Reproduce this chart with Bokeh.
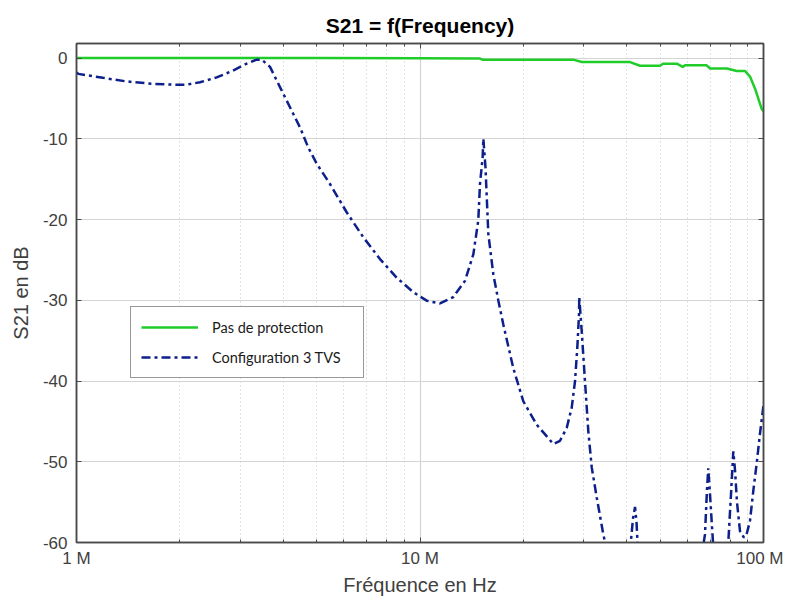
from bokeh.plotting import figure
from bokeh.models import (Range1d, FixedTicker, CustomJSTickFormatter, LogAxis,
                          LinearAxis, Legend, LegendItem)
from bokeh.embed import file_html
from bokeh.resources import INLINE

# ---- data (frequency in MHz, S21 in dB) ----
green_f_mhz = [1.0, 2.0, 3.0, 5.0, 10.0, 14.9, 15.2, 27.9, 29.6, 40.9, 43.7, 49.96,
               51.0, 55.9, 58.2, 59.1, 68.3, 69.9, 78.3, 83.6, 88.3, 91.35, 94.5,
               98.8, 100.0]
green_db = [0.0, 0.0, 0.0, 0.0, -0.02, -0.05, -0.2, -0.2, -0.5, -0.5, -0.95, -0.95,
            -0.7, -0.7, -1.1, -0.9, -0.9, -1.3, -1.3, -1.6, -1.6, -2.3, -3.8,
            -6.3, -6.6]

blue_f_mhz = [1.0, 1.012, 1.194, 1.40, 1.67, 1.91, 2.093, 2.288, 2.559, 2.855, 3.129,
              3.346, 3.461, 3.659, 3.912, 4.183, 4.474, 4.73, 5.005, 5.47, 6.117,
              6.839, 7.648, 8.554, 9.56, 10.46, 11.43, 12.50, 13.52, 14.30, 14.78,
              14.95, 15.22, 15.29, 15.51, 15.81, 16.35, 16.9, 17.48, 18.69, 19.98,
              21.86, 24.44, 25.56, 26.74, 27.65, 28.27, 28.71, 29.04, 29.08, 29.56,
              30.22, 30.9, 31.62, 32.69, 34.17, 35.03, 38.2, 40.87, 41.7, 42.27,
              42.69, 43.1, 46.7, 65.35, 67.55, 68.46, 69.06, 69.86, 70.8, 71.78,
              75.72, 78.98, 80.43, 81.68, 82.6, 83.72, 85.42, 87.74, 89.53, 91.35,
              93.39, 95.54, 97.68, 100.0]
blue_db = [-1.8, -1.96, -2.45, -2.9, -3.2, -3.3, -3.3, -3.0, -2.4, -1.55, -0.7,
           -0.2, -0.2, -1.1, -3.6, -6.1, -8.6, -11.1, -13.1, -15.6, -19.1,
           -22.2, -24.9, -27.2, -29.0, -30.05, -30.4, -29.6, -27.6, -24.3, -20.1,
           -15.6, -12.3, -10.0, -13.5, -21.8, -26.8, -30.0, -33.0, -38.4, -42.5,
           -45.4, -47.8, -47.4, -45.8, -43.3, -40.0, -35.8, -31.7, -29.6, -33.8,
           -40.0, -46.2, -50.7, -54.4, -59.0, -61.0, -64.0, -61.0, -57.0, -55.6,
           -57.5, -61.0, -65.0, -63.0, -59.0, -53.5, -50.8, -54.0, -58.0, -62.0,
           -64.0, -60.0, -54.0, -48.7, -51.0, -55.0, -58.6, -59.4, -58.8, -57.3,
           -53.6, -50.2, -46.5, -43.0]

x_major_mhz = [1, 10, 100]
x_minor_mhz = [2, 3, 4, 5, 6, 7, 8, 9, 20, 30, 40, 50, 60, 70, 80, 90]
y_ticks = [-60, -50, -40, -30, -20, -10, 0]

green_f = [f * 1e6 for f in green_f_mhz]
blue_f = [f * 1e6 for f in blue_f_mhz]
x_major = [f * 1e6 for f in x_major_mhz]
x_minor = [f * 1e6 for f in x_minor_mhz]

FONT = "Liberation Sans"
TXT = "#404040"
FRAME = "#4a4a4a"

p = figure(x_axis_type="log", x_range=Range1d(1e6, 1e8), y_range=Range1d(-60, 1.8),
           frame_width=687, frame_height=499,
           min_border_left=76, min_border_right=20, min_border_top=43, min_border_bottom=55,
           output_backend="svg", toolbar_location=None, title="S21 = f(Frequency)",
           background_fill_color="white", border_fill_color="white")

p.title.text_font = FONT
p.title.text_font_size = "21px"
p.title.text_font_style = "bold"
p.title.text_color = "black"
p.title.align = "center"
p.title.vertical_align = "top"
p.title.standoff = 10

xt = FixedTicker(ticks=x_major, minor_ticks=x_minor)
yt = FixedTicker(ticks=y_ticks, minor_ticks=[])
p.xaxis.ticker = xt
p.yaxis.ticker = yt
p.xaxis.formatter = CustomJSTickFormatter(code="return Math.round(tick/1e6) + ' M';")
p.yaxis.formatter = CustomJSTickFormatter(code="return String(Math.round(tick));")

for ax in [p.xaxis[0], p.yaxis[0]]:
    ax.major_label_text_font = FONT
    ax.major_label_text_font_size = "17px"
    ax.major_label_text_color = TXT
    ax.axis_label_text_font = FONT
    ax.axis_label_text_font_size = "20px"
    ax.axis_label_text_font_style = "normal"
    ax.axis_label_text_color = TXT
    ax.axis_line_color = FRAME
    ax.axis_line_width = 1.5
    ax.major_tick_in = 5
    ax.major_tick_out = 0
    ax.minor_tick_in = 3
    ax.minor_tick_out = 0
    ax.major_tick_line_color = FRAME
    ax.minor_tick_line_color = FRAME

p.xaxis.major_label_standoff = 6
p.yaxis.major_label_standoff = 9
p.xaxis.axis_label = "Fréquence en Hz"
p.yaxis.axis_label = "S21 en dB"
p.xaxis.axis_label_standoff = 3
p.yaxis.axis_label_standoff = 8

top = LogAxis(ticker=xt, formatter=CustomJSTickFormatter(code="return '';"),
              major_tick_in=5, major_tick_out=0,
              minor_tick_in=3, minor_tick_out=0, axis_line_color=FRAME, axis_line_width=1.5,
              major_tick_line_color=FRAME, minor_tick_line_color=FRAME, major_label_standoff=0)
right = LinearAxis(ticker=yt, formatter=CustomJSTickFormatter(code="return '';"),
                   major_tick_in=5, major_tick_out=0,
                   minor_tick_in=0, minor_tick_out=0, axis_line_color=FRAME, axis_line_width=1.5,
                   major_tick_line_color=FRAME, major_label_standoff=0)
p.add_layout(top, "above")
p.add_layout(right, "right")

p.outline_line_color = FRAME
p.outline_line_width = 1.5

p.xgrid.grid_line_color = "#d4d4d4"
p.xgrid.grid_line_width = 1.2
p.xgrid.minor_grid_line_color = "#c4c4c4"
p.xgrid.minor_grid_line_dash = "1 3"
p.xgrid.minor_grid_line_width = 1
p.ygrid.grid_line_color = "#d4d4d4"
p.ygrid.grid_line_width = 1.2

g = p.line(green_f, green_db, line_color="#1fcc2a", line_width=2.5)
b = p.line(blue_f, blue_db, line_color="#0d1f8a", line_width=2.5, line_dash="9 4 3 4")

legend = Legend(items=[LegendItem(label="Pas de protection", renderers=[g]),
                       LegendItem(label="Configuration 3 TVS", renderers=[b])],
                location=(54, 164), margin=0, padding=10, spacing=10,
                label_width=141, label_height=20, glyph_width=57, glyph_height=20,
                label_standoff=14, label_text_font="Lato", label_text_font_size="14.5px",
                label_text_color="#1a1a1a", border_line_color="#333333",
                border_line_width=1.5, background_fill_color="white",
                background_fill_alpha=1.0)
p.add_layout(legend, "center")

open("out.html", "w").write(file_html(p, INLINE))
